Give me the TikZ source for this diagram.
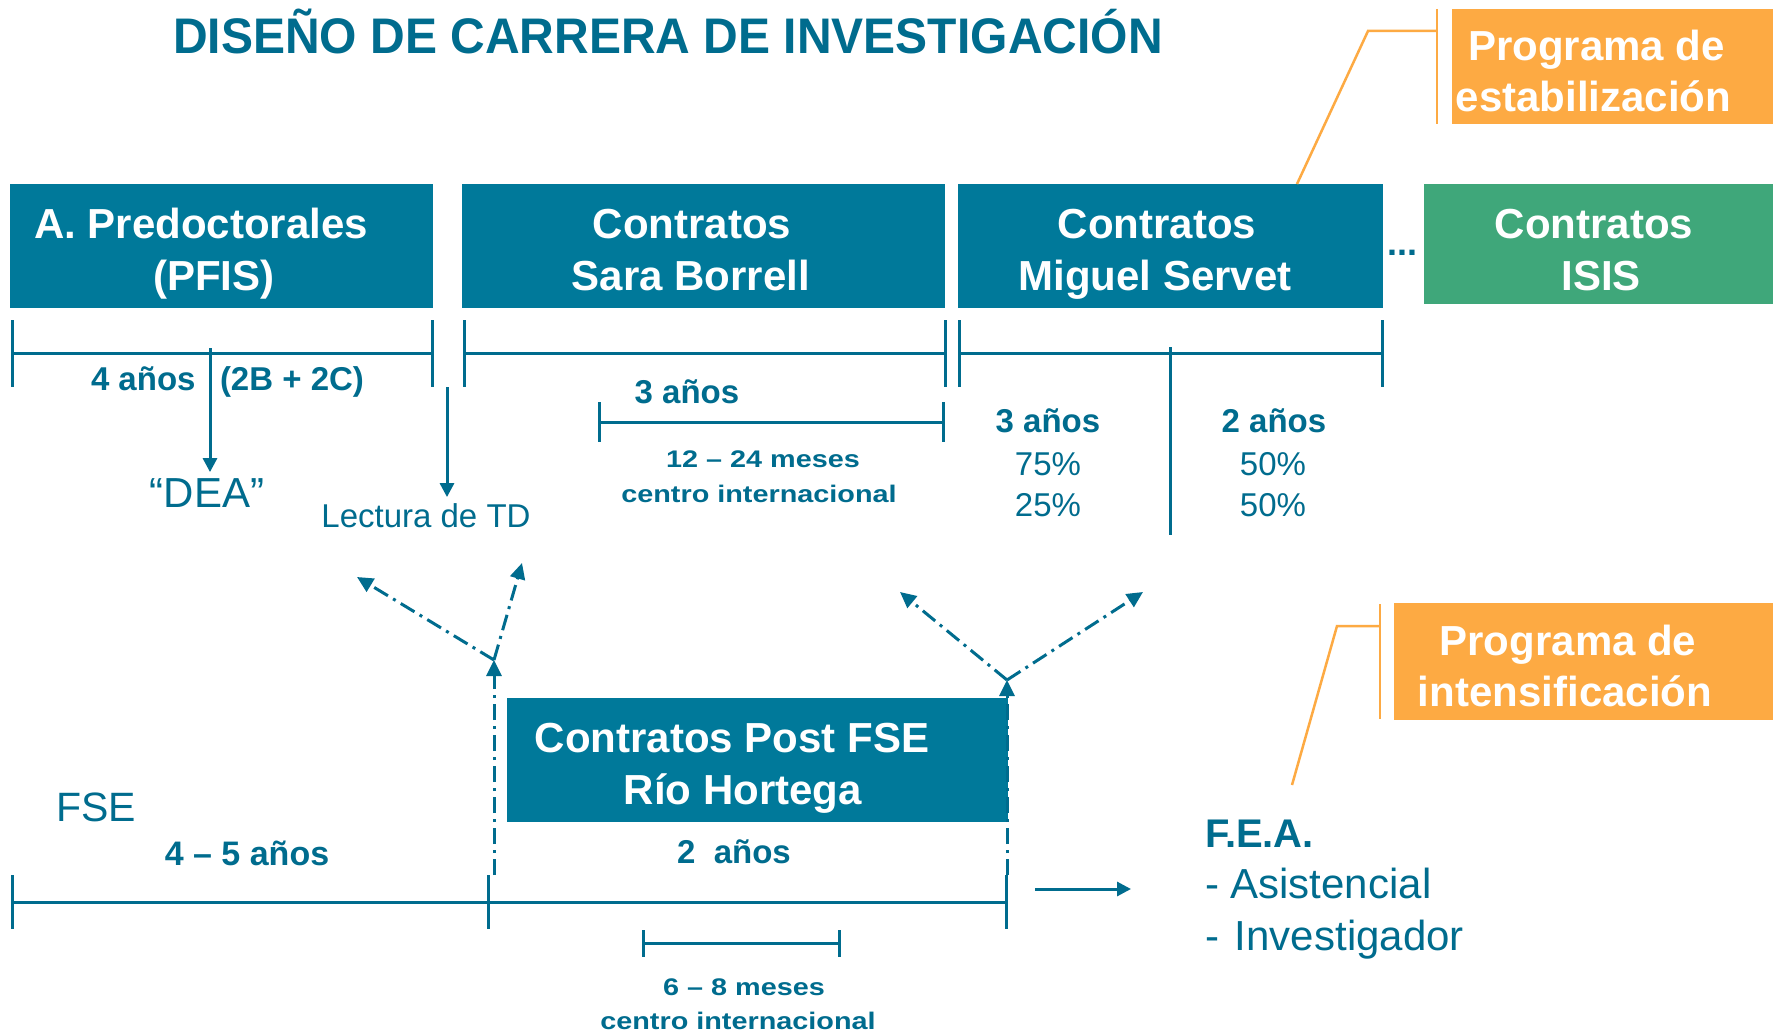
\documentclass[tikz,border=0pt]{standalone}
\usepackage{fontspec}
\setmainfont{Liberation Sans}
\newfontfamily\titlefont[FakeStretch=0.96]{Liberation Sans}
\newfontfamily\widefont[FakeStretch=1.2]{Liberation Sans}
\usetikzlibrary{arrows.meta}
\definecolor{boxblue}{RGB}{0,121,154}
\definecolor{tblue}{RGB}{0,108,142}
\definecolor{boxgreen}{RGB}{63,167,122}
\definecolor{orng}{RGB}{253,170,67}
% invisible struts used to place the box texts as in the reference
\newcommand\mytop[1]{\rule{0pt}{#1pt}}
\newcommand\mybot{\rule[-10pt]{0pt}{10pt}}
\newcommand\myshift[1]{\rule{#1pt}{0pt}}
\begin{document}
\begin{tikzpicture}[x=1pt,y=-1pt,
  every node/.style={inner sep=0pt, outer sep=0pt},
  box/.style={fill=boxblue, text=white, align=center, font=\fontsize{42}{52}\selectfont\bfseries},
  greenbox/.style={box, fill=boxgreen},
  orangebox/.style={fill=orng, text=white, align=center, font=\fontsize{42}{51}\selectfont\bfseries},
  lbl/.style={text=tblue, anchor=base},
  boldlbl/.style={lbl, font=\fontsize{33}{40}\selectfont\bfseries},
  reglbl/.style={lbl, font=\fontsize{33}{40}\selectfont},
  biglbl/.style={lbl, font=\fontsize{42}{50}\selectfont},
  smalllbl/.style={lbl, font=\widefont\fontsize{24}{30}\selectfont\bfseries},
  tl/.style={draw=tblue, line width=3pt},
  arr/.style={tl, -{Triangle[length=14pt,width=14pt]}},
  dd/.style={draw=tblue, line width=3pt, dash pattern=on 16pt off 6pt on 3pt off 6pt, -{Triangle[length=16pt,width=15pt]}},
  orl/.style={draw=orng, line width=2.5pt},
]
\useasboundingbox (0,0) rectangle (1773,1033);
\fill[white] (0,0) rectangle (1773,1033);

% title
\node[lbl, font=\titlefont\fontsize{50}{60}\selectfont\bfseries] (title) at (668,54) {DISEÑO DE CARRERA DE INVESTIGACIÓN};

% top boxes
\node[box, minimum width=423pt, minimum height=124pt] (b1) at (221.5,246)
  {\mytop{46}A. Predoctorales\myshift{41}\\(PFIS)\myshift{15}\mybot};
\node[box, minimum width=483pt, minimum height=124pt] (b2) at (703.5,246)
  {\mytop{46}Contratos\myshift{23}\\Sara Borrell\myshift{25}\mybot};
\node[box, minimum width=425pt, minimum height=124pt] (b3) at (1170.5,246)
  {\mytop{46}Contratos\myshift{27}\\Miguel Servet\myshift{31}\mybot};
\node[greenbox, minimum width=349pt, minimum height=120pt] (b4) at (1598.5,244)
  {\mytop{50}Contratos\myshift{9}\\\myshift{5}ISIS\mybot};
\node[lbl, font=\fontsize{36}{40}\selectfont\bfseries] (dots) at (1402,255) {...};

% orange boxes
\node[orangebox, minimum width=321pt, minimum height=115pt] (o1) at (1612.5,66.5)
  {\mytop{48}Programa de\myshift{32}\\estabilización\myshift{38}\mybot};
\node[orangebox, minimum width=379pt, minimum height=117pt] (o2) at (1583.5,661.5)
  {\mytop{48}Programa de\myshift{31}\\intensificación\myshift{37}\mybot};

% orange connectors
\coordinate (o1a) at (1297,184);
\coordinate (o1b) at (1368,31);
\coordinate (o1c) at (1437,31);
\draw[orl] (o1a) -- (o1b) -- (o1c);
\draw[orl] (1437,9) -- (1437,124);
\coordinate (o2a) at (1292,785);
\coordinate (o2b) at (1337,626);
\coordinate (o2c) at (1380,626);
\draw[orl] (o2a) -- (o2b) -- (o2c);
\draw[orl] (1380,604) -- (1380,719);

% PFIS timeline
\draw[tl] (12,320) -- (12,387);
\draw[tl] (432,320) -- (432,387);
\draw[tl] (12,353) -- (432,353);
\node[boldlbl, anchor=base west] (pf1) at (91,390) {4 años};
\node[boldlbl, anchor=base west] (pf2) at (220,390) {(2B + 2C)};
\node[biglbl] (dea) at (207,507) {“DEA”};
\coordinate (deasrc) at (210,348);
\draw[arr, shorten >=6pt] (deasrc) -- (deasrc |- dea.north);
\node[reglbl] (lec) at (426,527) {Lectura de TD};
\coordinate (lecsrc) at (447,387);
\draw[arr, shorten >=6pt] (lecsrc) -- (lecsrc |- lec.north);

% Sara Borrell timeline
\draw[tl] (464,320) -- (464,387);
\draw[tl] (945,320) -- (945,387);
\draw[tl] (464,353) -- (945,353);
\node[boldlbl] (sb1) at (687,403) {3 años};
\draw[tl] (599,402) -- (599,442);
\draw[tl] (943,402) -- (943,442);
\draw[tl] (599,422) -- (943,422);
\node[smalllbl] (sb2) at (763,467) {12 – 24 meses};
\node[smalllbl] (sb3) at (759,502) {centro internacional};

% Miguel Servet timeline
\draw[tl] (959,320) -- (959,387);
\draw[tl] (1382,320) -- (1382,387);
\draw[tl] (959,353) -- (1382,353);
\draw[tl] (1170,347) -- (1170,535);
\node[boldlbl] (ms1) at (1048,432) {3 años};
\node[reglbl] (ms2) at (1048,475) {75\%};
\node[reglbl] (ms3) at (1048,516) {25\%};
\node[boldlbl] (ms4) at (1274,432) {2 años};
\node[reglbl] (ms5) at (1273,475) {50\%};
\node[reglbl] (ms6) at (1273,516) {50\%};

% Rio Hortega box
\node[box, minimum width=501pt, minimum height=124pt] (b5) at (757.5,760)
  {\mytop{46}Contratos Post FSE\myshift{51}\\Río Hortega\myshift{29}\mybot};

% dash-dot arrows
\coordinate (v1) at (494,875);
\coordinate (j1) at (494,660);
\coordinate (e1) at (357,577);
\coordinate (e2) at (522,563);
\draw[dd] (v1) -- (j1);
\draw[dd] (j1) -- (e1);
\draw[dd] (j1) -- (e2);
\coordinate (v2) at (1007,875);
\coordinate (j2) at (1007,680);
\coordinate (e3) at (900,592);
\coordinate (e4) at (1143,592);
\draw[dd] (v2) -- (j2);
\draw[dd] (j2) -- (e3);
\draw[dd] (j2) -- (e4);

% bottom timeline
\node[biglbl, anchor=base west, font=\fontsize{41}{50}\selectfont] (fse) at (56,821) {FSE};
\node[boldlbl, font=\fontsize{34}{40}\selectfont\bfseries] (fse2) at (247,865) {4 – 5 años};
\node[boldlbl] (rh1) at (734,863) {2\ \ años};
\draw[tl] (12,875) -- (12,929);
\draw[tl] (488,875) -- (488,929);
\draw[tl] (1006,875) -- (1006,929);
\draw[tl] (12,902) -- (1006,902);
\draw[tl] (643,930) -- (643,957);
\draw[tl] (839,930) -- (839,957);
\draw[tl] (643,943) -- (839,943);
\node[smalllbl] (rh2) at (744,995) {6 – 8 meses};
\node[smalllbl] (rh3) at (738,1029) {centro internacional};

% F.E.A.
\coordinate (fa1) at (1035,889);
\coordinate (fa2) at (1131,889);
\draw[arr] (fa1) -- (fa2);
\node[lbl, anchor=base west, font=\fontsize{40}{48}\selectfont\bfseries] (fea1) at (1205,847) {F.E.A.};
\node[lbl, anchor=base west, font=\fontsize{42}{50}\selectfont] (fea2) at (1205,898) {- Asistencial};
\node[lbl, anchor=base west, font=\fontsize{42}{50}\selectfont] (fea3) at (1205,950) {-\hspace{16pt}Investigador};
\end{tikzpicture}
\end{document}
